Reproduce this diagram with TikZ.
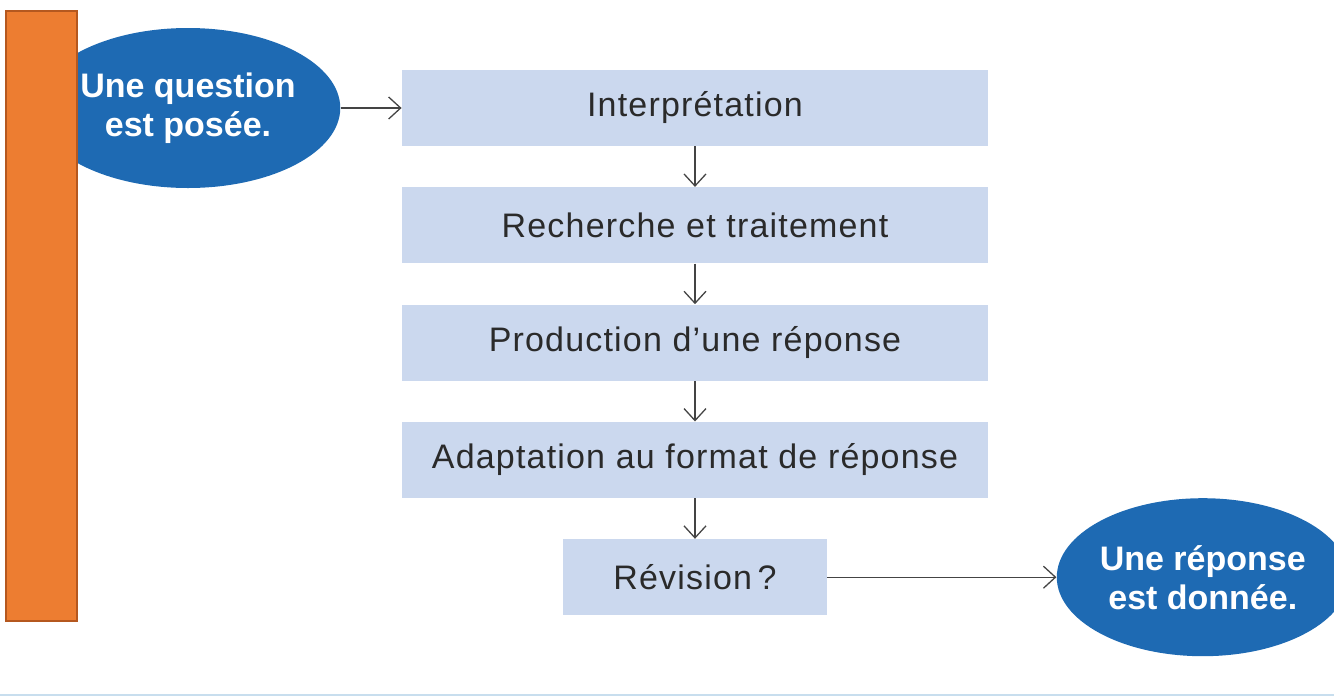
\documentclass[tikz,border=0pt]{standalone}
\usepackage{fontspec}
\setmainfont{Liberation Sans}
\newfontfamily\boxfont[LetterSpace=3.5]{Liberation Sans}
\usepackage{tikz}
\usetikzlibrary{arrows.meta,positioning,shapes.geometric}
\definecolor{stepfill}{RGB}{203,216,238}
\definecolor{ovalblue}{RGB}{30,106,179}
\definecolor{barorange}{RGB}{237,125,49}
\definecolor{bardark}{RGB}{181,88,31}
\definecolor{arrowgray}{RGB}{68,68,68}
\definecolor{textgray}{RGB}{42,42,42}
\definecolor{rulecolor}{RGB}{200,222,238}

\begin{document}
\begin{tikzpicture}[
  node distance=20.25pt and 20.25pt,
  stepbox/.style={rectangle, fill=stepfill, minimum width=293pt, minimum height=38pt,
    inner sep=0pt, text=textgray, font=\boxfont\fontsize{17}{19}\selectfont},
  oval/.style={ellipse, fill=ovalblue, inner sep=0pt, text=white, align=center,
    font=\fontsize{17}{19.5}\selectfont\bfseries},
  arr/.style={-{Straight Barb[length=6pt,width=11pt]}, line width=0.65pt, draw=arrowgray}
]
\useasboundingbox (0,0) rectangle (667pt,-348.5pt);
\node[oval, minimum width=149pt, minimum height=80pt] (ask) at (94pt,-54pt) {Une question\\est posée.};
\node[rectangle, fill=barorange, draw=bardark, line width=1pt,
  minimum width=35.5pt, minimum height=305pt] (bar) at (20.75pt,-158pt) {};
\node[stepbox] (interp) at (347.5pt,-54pt) {Interprétation};
\node[stepbox, below=of interp] (search) {Recherche et traitement};
\node[stepbox, below=of search] (prod) {Production d’une réponse};
\node[stepbox, below=of prod] (adapt) {Adaptation au format de réponse};
\node[stepbox, minimum width=132pt, below=of adapt] (revis) {Révision\,?};
\node[oval, minimum width=146pt, minimum height=79pt, right=114.5pt of revis] (answer) {Une réponse\\est donnée.};
\draw[arr] (ask) -- (interp);
\draw[arr] (interp) -- (search);
\draw[arr] (search) -- (prod);
\draw[arr] (prod) -- (adapt);
\draw[arr] (adapt) -- (revis);
\draw[arr] (revis) -- (answer);
% thin rule along the bottom edge
\draw[rulecolor, line width=1pt] (0,-347.5pt) -- (667pt,-347.5pt);
\end{tikzpicture}
\end{document}
